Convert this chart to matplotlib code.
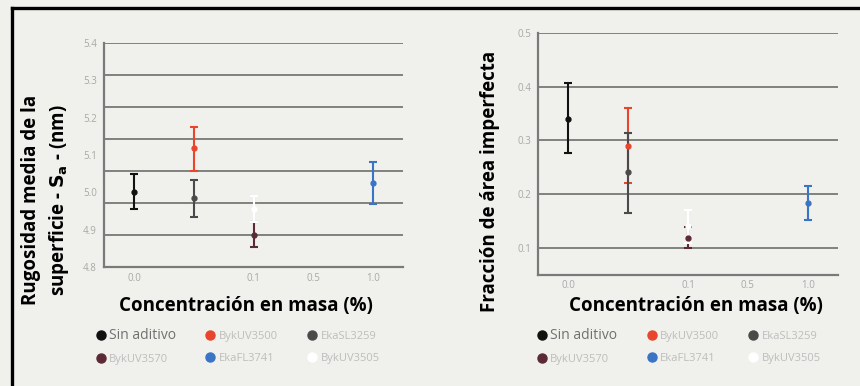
import numpy as np
import matplotlib

matplotlib.use("Agg")
import matplotlib.pyplot as plt
from matplotlib.lines import Line2D

plt.rcParams["font.family"] = ["Open Sans", "DejaVu Sans"]

# categorical x positions: 0.0, (0.05), 0.1, 0.5, 1.0
x_ticklabels = ["0.0", "", "0.1", "0.5", "1.0"]

series = ["Sin aditivo", "BykUV3500", "EkaSL3259", "BykUV3570", "EkaFL3741", "BykUV3505"]
colors = ["#111111", "#e8452c", "#4a4a4a", "#5b2a36", "#3a74c4", "#ffffff"]
x_pos = [0, 1, 1, 2, 4, 2]

# surface roughness Sa (nm): mean, lower, upper
sa_mean = [5.000, 5.118, 4.984, 4.885, 5.024, 4.955]
sa_low = [4.955, 5.057, 4.933, 4.855, 4.968, 4.920]
sa_high = [5.049, 5.176, 5.033, 4.920, 5.080, 4.990]

# imperfect area fraction: mean, lower, upper
fr_mean = [0.340, 0.290, 0.242, 0.118, 0.183, 0.140]
fr_low = [0.276, 0.220, 0.165, 0.100, 0.152, 0.110]
fr_high = [0.406, 0.360, 0.314, 0.139, 0.215, 0.170]

BG = "#f0f0ec"
fig = plt.figure(figsize=(8.6, 3.86), dpi=100, facecolor=BG)

ax1 = fig.add_axes([0.121, 0.308, 0.348, 0.581])
ax2 = fig.add_axes([0.626, 0.288, 0.348, 0.627])


def style_axis(ax, ylim, yticks, grid_y):
    ax.set_facecolor("none")
    ax.set_xlim(-0.5, 4.5)
    ax.set_ylim(*ylim)
    for gy in grid_y:
        ax.axhline(gy, color="#808080", lw=1.4, zorder=1)
    for s in ("top", "right"):
        ax.spines[s].set_visible(False)
    for s in ("left", "bottom"):
        ax.spines[s].set_color("#7a7a7a")
        ax.spines[s].set_linewidth(1.6)
    ax.set_yticks(yticks)
    ax.set_yticklabels([f"{t:.1f}" for t in yticks], color="#a8a8a8", fontsize=7)
    ax.set_xticks(range(len(x_ticklabels)))
    ax.set_xticklabels(x_ticklabels, color="#a8a8a8", fontsize=7)
    ax.tick_params(axis="y", length=0, pad=5)
    ax.tick_params(axis="x", length=0, pad=4)
    ax.set_xlabel("Concentración en masa (%)", fontsize=13.5, fontweight="bold",
                  color="black")


def draw_bars(ax, mean, low, high):
    for i in range(len(series)):
        ax.errorbar(x_pos[i], mean[i],
                    yerr=[[mean[i] - low[i]], [high[i] - mean[i]]],
                    fmt="o", color=colors[i], ecolor=colors[i], markersize=3.5,
                    elinewidth=1.5, capsize=3, capthick=1.5, zorder=3)


style_axis(ax1, (4.8, 5.4), np.round(np.arange(4.8, 5.41, 0.1), 1),
           np.linspace(4.8, 5.4, 8)[1:])
draw_bars(ax1, sa_mean, sa_low, sa_high)
ax1.set_ylabel("Rugosidad media de la\nsuperficie - $\\mathbf{S_a}$ - (nm)",
               fontsize=13.5, fontweight="bold", linespacing=1.35)
ax1.yaxis.set_label_coords(-0.112, 0.30)
ax1.xaxis.set_label_coords(0.475, -0.129)

style_axis(ax2, (0.05, 0.5), np.round(np.arange(0.1, 0.51, 0.1), 1),
           np.arange(0.1, 0.51, 0.1))
draw_bars(ax2, fr_mean, fr_low, fr_high)
ax2.set_ylabel("Fracción de área imperfecta", fontsize=13.5, fontweight="bold")
ax2.yaxis.set_label_coords(-0.128, 0.384)
ax2.xaxis.set_label_coords(0.528, -0.087)

# legends (column-major order so rows read left to right)
order = [0, 3, 1, 4, 2, 5]
for ax_center in (0.276, 0.789):
    handles = [Line2D([], [], marker="o", ls="none", markersize=6.5,
                      markerfacecolor=colors[i], markeredgecolor=colors[i])
               for i in order]
    leg = fig.legend(handles, [series[i] for i in order], ncol=3,
                     loc="center", bbox_to_anchor=(ax_center, 0.103),
                     frameon=False, handletextpad=0.25, columnspacing=2.6,
                     labelspacing=0.95, handlelength=1.0, fontsize=8)
    for j, txt in enumerate(leg.get_texts()):
        if order[j] == 0:
            txt.set_color("#707070")
            txt.set_fontsize(10)
        else:
            txt.set_color("#bdbdbd")

# black frame on top and left
fig.add_artist(Line2D([0.014, 1.0], [0.979, 0.979], color="black", lw=2.4,
                      transform=fig.transFigure))
fig.add_artist(Line2D([0.014, 0.014], [0.0, 0.979], color="black", lw=2.4,
                      transform=fig.transFigure))

fig.savefig("out.png", dpi=100, facecolor=BG)
